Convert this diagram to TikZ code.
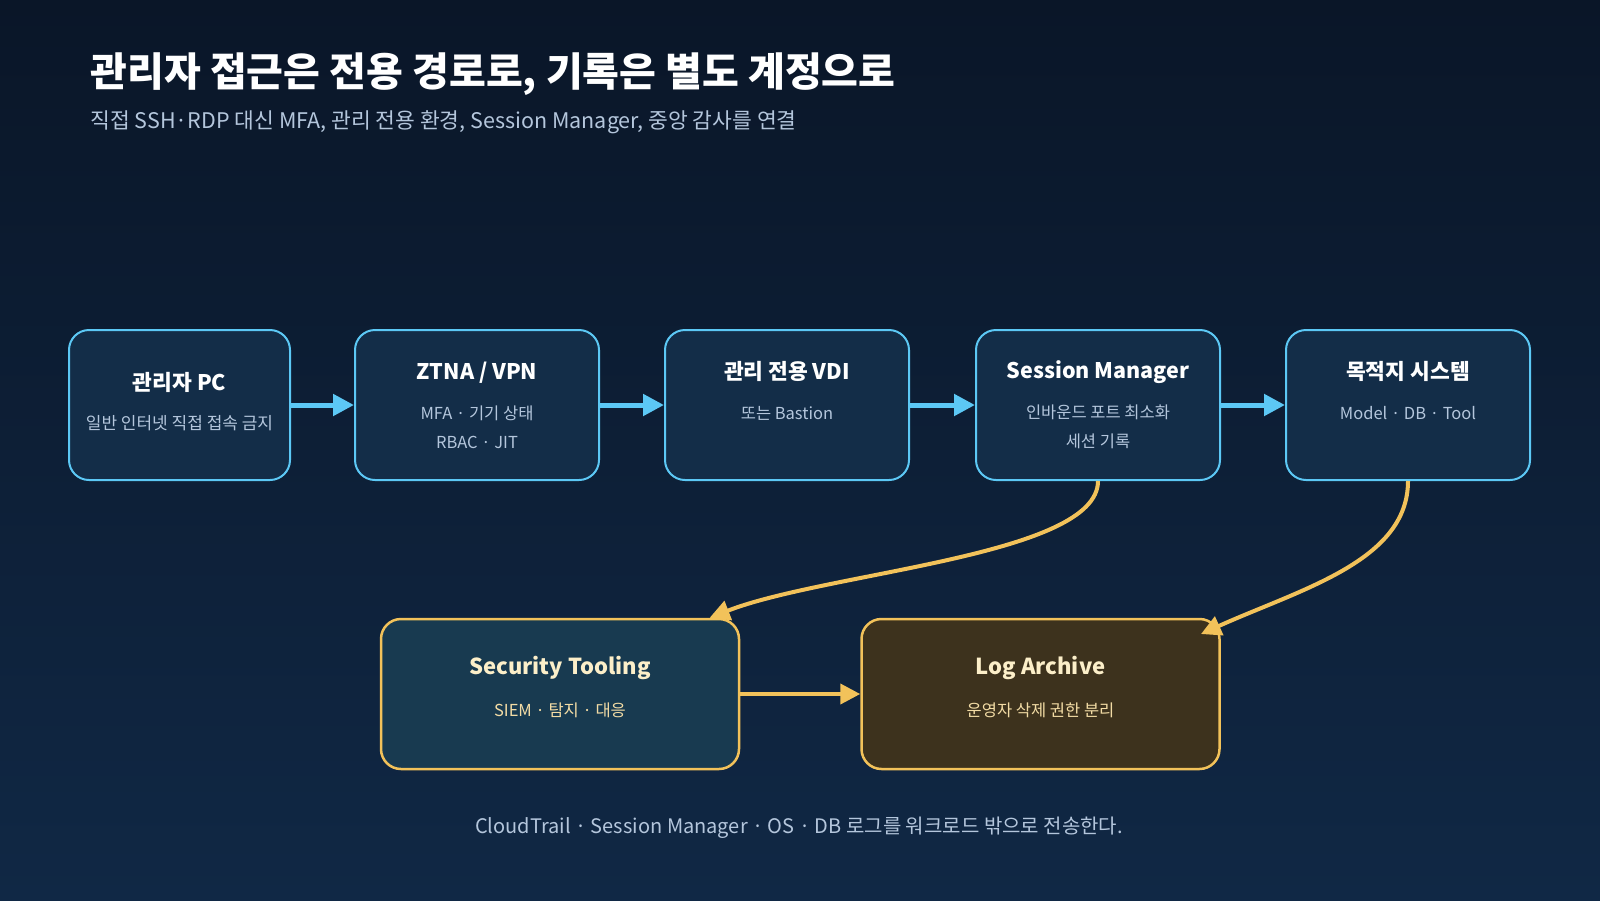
\documentclass[tikz,border=0pt]{standalone}
\usepackage{fontspec}
\setmainfont{Noto Sans CJK KR}
\usepackage{tikz}
\usetikzlibrary{arrows.meta}
\usetikzlibrary{positioning}

\definecolor{bgtop}{HTML}{0A1628}
\definecolor{bgbot}{HTML}{102845}
\definecolor{stagefill}{HTML}{132D48}
\definecolor{stageedge}{HTML}{5CC8F5}
\definecolor{subblue}{HTML}{B4C6DC}
\definecolor{gold}{HTML}{F2C25A}
\definecolor{secfill}{HTML}{183A50}
\definecolor{logfill}{HTML}{3D321D}
\definecolor{cream}{HTML}{FCEFC9}
\definecolor{creamsub}{HTML}{F3DCA5}

\newcommand{\stagetitle}{\fontsize{21.5}{29}\selectfont\bfseries\color{white}}
\newcommand{\sinktitle}{\fontsize{22}{29}\selectfont\bfseries\color{cream}}

\tikzstyle{stage} = [
    rectangle, rounded corners=20pt, minimum width=244pt, minimum height=150pt,
    align=center, draw=stageedge, line width=2pt, fill=stagefill,
    text=subblue, font=\fontsize{16.5}{29}\selectfont]
\tikzstyle{sink} = [
    rectangle, rounded corners=20pt, minimum width=358pt, minimum height=150pt,
    align=center, draw=gold, line width=2.5pt,
    text=creamsub, font=\fontsize{16.5}{29}\selectfont]
\tikzstyle{flow} = [line width=5pt, draw=stageedge, -{Triangle[length=21pt,width=21pt]}]
\tikzstyle{logflow} = [line width=4pt, draw=gold, -{Triangle[length=20pt,width=20pt]}]

\begin{document}
\begin{tikzpicture}[x=1pt, y=-1pt]
\fill[top color=bgtop, bottom color=bgbot] (0,0) rectangle (1600,900);

\node (title) [anchor=base west, text=white, font=\fontsize{40}{48}\selectfont\bfseries] at (87,86)
    {관리자 접근은 전용 경로로, 기록은 별도 계정으로};
\node (subtitle) [anchor=base west, text=subblue, font=\fontsize{21.5}{26}\selectfont] at (87,128)
    {직접 SSH·RDP 대신 MFA, 관리 전용 환경, Session Manager, 중앙 감사를 연결};

\node (admin-pc) [stage, minimum width=221pt] at (179.5,405) {
    \stagetitle 관리자 PC \\[10pt]
    \fontsize{17}{29}\selectfont 일반 인터넷 직접 접속 금지 \\[-21pt]
    \phantom{X}
};

\node (ztna-vpn) [stage, right=63pt of admin-pc] {
    \stagetitle ZTNA / VPN \\[11pt]
    MFA · 기기 상태 \\
    RBAC · JIT
};

\node (mgmt-vdi) [stage, right=64pt of ztna-vpn] {
    \stagetitle 관리 전용 VDI \\[11pt]
    또는 Bastion \\
    \phantom{X}
};

\node (session-mgr) [stage, right=65pt of mgmt-vdi] {
    \stagetitle Session Manager \\[11pt]
    인바운드 포트 최소화 \\
    세션 기록
};

\node (target-sys) [stage, right=64pt of session-mgr] {
    \stagetitle 목적지 시스템 \\[11pt]
    Model · DB · Tool \\
    \phantom{X}
};

\node (sec-tooling) [sink, fill=secfill] at (560,694) {
    \sinktitle Security Tooling \\[13pt]
    SIEM · 탐지 · 대응 \\[-13pt]
    \phantom{X}
};

\node (log-archive) [sink, fill=logfill, right=120pt of sec-tooling] {
    \sinktitle Log Archive \\[13pt]
    운영자 삭제 권한 분리 \\[-13pt]
    \phantom{X}
};

\node (footer) [anchor=base, text=subblue, font=\fontsize{20}{24}\selectfont] at (799,833)
    {CloudTrail · Session Manager · OS · DB 로그를 워크로드 밖으로 전송한다.};

\coordinate (log-in) at (1201,634);

\draw [flow] (admin-pc) -- (ztna-vpn);
\draw [flow] (ztna-vpn) -- (mgmt-vdi);
\draw [flow] (mgmt-vdi) -- (session-mgr);
\draw [flow] (session-mgr) -- (target-sys);

\draw [logflow] (session-mgr.south) .. controls +(0,75) and +(118,-46) .. (sec-tooling.27.5);
\draw [logflow] (target-sys.south) .. controls +(0,80) and +(100,-45) .. (log-in);
\draw [logflow] (sec-tooling) -- (log-archive);
\end{tikzpicture}
\end{document}
